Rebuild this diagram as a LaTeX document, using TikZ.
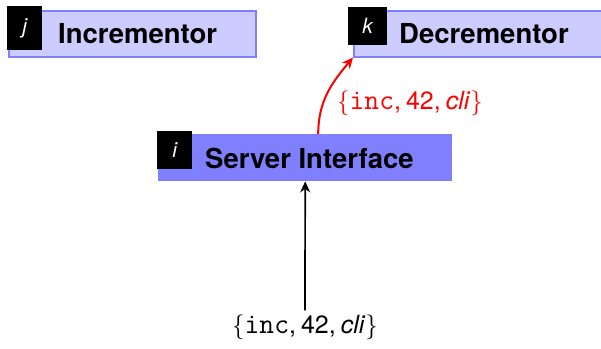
\documentclass[tikz,border=0pt]{standalone}
\usepackage{fontspec}
\setmainfont{TeX Gyre Heros}
\setmonofont[Scale=1.15]{Latin Modern Mono}
\usetikzlibrary{arrows.meta}
\definecolor{boxfill}{HTML}{CCCCFF}
\definecolor{boxedge}{HTML}{8080FF}
\definecolor{msgred}{HTML}{FF0000}
\tikzset{
  lbox/.style={draw=boxedge, fill=boxfill, line width=1.5pt, minimum height=46pt, inner sep=0pt, anchor=north west},
  sbox/.style={fill=boxedge, minimum height=47pt, inner sep=0pt, anchor=north west},
  tagbox/.style={fill=black, text=white, inner sep=0pt, anchor=north west, font=\fontsize{21}{21}\selectfont\itshape},
  titletext/.style={font=\fontsize{27.5}{30}\selectfont\bfseries, anchor=base west, inner sep=0pt},
  msg/.style={font=\fontsize{25}{27}\selectfont, inner sep=0pt},
  arr/.style={-{Stealth[length=11pt,width=10pt]}}
}
\newcommand{\msgtext}{$\{$\texttt{inc},\hspace{0.2em}42,\hspace{0.2em}\textit{cli}$\}$}
\begin{document}
\begin{tikzpicture}[x=1pt,y=-1pt]
\useasboundingbox (0,0) rectangle (601,348);
% Incrementor
\node[lbox, minimum width=247pt] (inc) at (8,10) {};
\node[tagbox, minimum width=35pt, minimum height=44pt] (tj) at (7,6) {j};
\node[titletext] (inct) at (58,43) {Incrementor};
% Decrementor
\node[lbox, minimum width=260pt] (dec) at (353,10) {};
\node[tagbox, minimum width=39pt, minimum height=38pt] (tk) at (348,7) {k};
\node[titletext] (dect) at (399,43) {Decrementor};
% Server Interface
\node[sbox, minimum width=294pt] (srv) at (158,134) {};
\node[tagbox, minimum width=35pt, minimum height=38pt] (ti) at (157,131) {i};
\node[titletext] (srvt) at (205,168) {Server Interface};
% messages
\node[msg] (msgb) at (305,327) {\msgtext};
\node[msg, text=msgred] (msgr) at (410,103) {\msgtext};
% arrows
\coordinate (src) at ([xshift=13pt]srv.north);
\draw[arr, line width=1.7pt] ([yshift=4pt]msgb.north) -- (srv.south);
\draw[arr, msgred, line width=2pt] (src) to[out=90, in=-130] (dec.south west);
\end{tikzpicture}
\end{document}
